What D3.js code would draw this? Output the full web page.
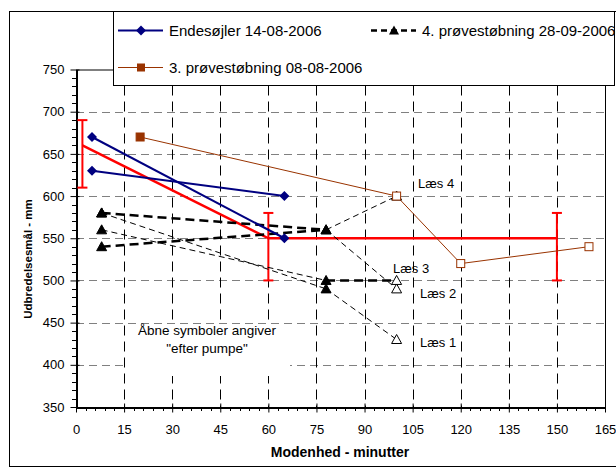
<!DOCTYPE html>
<html>
<head>
<meta charset="utf-8">
<script src="https://cdn.jsdelivr.net/npm/d3@7.9.0/dist/d3.min.js"></script>
<style>
  body { margin: 0; background: #fff; }
  svg { display: block; font-family: "Liberation Sans", Arial, sans-serif; }
</style>
</head>
<body>
<svg id="chart" width="616" height="468"></svg>
<script>
// ---- data ----
const xTicks = [0, 15, 30, 45, 60, 75, 90, 105, 120, 135, 150, 165];
const yTicks = [350, 400, 450, 500, 550, 600, 650, 700, 750];

// Endesøjler 14-08-2006 (two pairs)
const endesojlerA = [[5, 670], [65, 550]];
const endesojlerB = [[5, 630], [65, 600]];

// red mean line with error bars (+30 / -50)
const meanLine = [[2, 660], [60, 550], [150, 550]];
const errUp = 30;
const errDown = 50;

// 3. prøvestøbning 08-08-2006 (first point before pump, rest after)
const prove3 = [[20, 670], [100, 600], [120, 520], [160, 540]];
const prove3Open = [false, true, true, true];

// 4. prøvestøbning 28-09-2006, one run per load ("Læs")
const laes1 = [[8, 580], [78, 490], [100, 430]];
const laes2 = [[8, 580], [78, 560], [100, 490]];
const laes3 = [[8, 560], [78, 500], [100, 500]];
const laes4 = [[8, 540], [78, 560], [100, 600]];
const laesLabels = ['Læs 1', 'Læs 2', 'Læs 3', 'Læs 4'];

const svg = d3.select('#chart');
const margin = { left: 76, right: 605, top: 69.5, bottom: 407 };

const x = d3.scaleLinear().domain([0, 165]).range([margin.left, margin.right]);
const y = d3.scaleLinear().domain([350, 750]).range([margin.bottom, margin.top]);

// outer frame
svg.append('rect')
  .attr('x', 9.5).attr('y', 11.5).attr('width', 620).attr('height', 455)
  .attr('fill', 'none').attr('stroke', '#000');

// gridlines
svg.append('g').selectAll('line')
  .data(yTicks.filter((d) => d > 350 && d < 750))
  .join('line')
  .attr('x1', margin.left).attr('x2', margin.right)
  .attr('y1', (d) => Math.round(y(d)) + 0.5).attr('y2', (d) => Math.round(y(d)) + 0.5)
  .attr('stroke', '#808080').attr('stroke-dasharray', '8,5');

svg.append('g').selectAll('line')
  .data(xTicks.filter((d) => d > 0 && d < 165))
  .join('line')
  .attr('x1', (d) => Math.round(x(d)) + 0.5).attr('x2', (d) => Math.round(x(d)) + 0.5)
  .attr('y1', margin.top).attr('y2', margin.bottom)
  .attr('stroke', '#000').attr('stroke-dasharray', '10,6');

// note box (white, hides grid behind text)
svg.append('rect')
  .attr('x', 127).attr('y', 325).attr('width', 163).attr('height', 51)
  .attr('fill', '#fff');
svg.append('text')
  .attr('x', 207).attr('y', 335).attr('text-anchor', 'middle')
  .attr('font-size', 13.5).text('Åbne symboler angiver');
svg.append('text')
  .attr('x', 207).attr('y', 353).attr('text-anchor', 'middle')
  .attr('font-size', 13.5).text('"efter pumpe"');

// plot frame
svg.append('rect')
  .attr('x', margin.left + 0.5).attr('y', margin.top + 0.5)
  .attr('width', margin.right - margin.left).attr('height', margin.bottom - margin.top)
  .attr('fill', 'none').attr('stroke', '#000');

// axes
const yAxis = svg.append('g')
  .attr('transform', `translate(${margin.left + 0.5},0)`)
  .call(d3.axisLeft(y).tickValues(yTicks).tickSizeInner(6).tickSizeOuter(0).tickPadding(6));
yAxis.selectAll('.tick line').attr('x2', -6).attr('x1', 3);
yAxis.selectAll('text').attr('font-size', 13).attr('font-family', 'Liberation Sans, Arial, sans-serif');
yAxis.select('.domain').attr('stroke-width', 2);
svg.append('g').selectAll('line')
  .data(d3.range(350, 751, 10).filter((d) => d % 50 !== 0))
  .join('line')
  .attr('x1', margin.left - 4).attr('x2', margin.left)
  .attr('y1', (d) => Math.round(y(d)) + 0.5).attr('y2', (d) => Math.round(y(d)) + 0.5)
  .attr('stroke', '#000');

const xAxis = svg.append('g')
  .attr('transform', `translate(0,${margin.bottom + 0.5})`)
  .call(d3.axisBottom(x).tickValues(xTicks).tickSizeInner(5).tickSizeOuter(0).tickPadding(12));
xAxis.selectAll('.tick line').attr('y1', -4);
xAxis.selectAll('text').attr('font-size', 13).attr('font-family', 'Liberation Sans, Arial, sans-serif');
xAxis.select('.domain').attr('stroke-width', 2);
svg.append('g').selectAll('line')
  .data(d3.range(0, 166, 3).filter((d) => d % 15 !== 0))
  .join('line')
  .attr('x1', (d) => Math.round(x(d)) + 0.5).attr('x2', (d) => Math.round(x(d)) + 0.5)
  .attr('y1', margin.bottom).attr('y2', margin.bottom + 4)
  .attr('stroke', '#000');

// axis titles
svg.append('text')
  .attr('x', 340).attr('y', 457).attr('text-anchor', 'middle')
  .attr('font-size', 14).attr('font-weight', 'bold').text('Modenhed - minutter');
svg.append('text')
  .attr('transform', 'translate(32,259) rotate(-90)').attr('text-anchor', 'middle')
  .attr('font-size', 11.5).attr('font-weight', 'bold').text('Udbredelsesmål - mm');

const line = d3.line().x((d) => x(d[0])).y((d) => y(d[1]));

// marker shapes
const diamond = (s) => `M0,${-s}L${s},0L0,${s}L${-s},0Z`;
const triangle = (s) => `M0,${-s}L${s},${s * 0.8}L${-s},${s * 0.8}Z`;

// red mean line + error bars
svg.append('path').datum(meanLine).attr('d', line)
  .attr('fill', 'none').attr('stroke', '#ff0000').attr('stroke-width', 2.5);
const eb = svg.append('g').selectAll('g').data(meanLine).join('g')
  .attr('stroke', '#ff0000').attr('stroke-width', 2);
eb.append('line')
  .attr('x1', (d) => x(d[0])).attr('x2', (d) => x(d[0]))
  .attr('y1', (d) => y(d[1] + errUp)).attr('y2', (d) => y(d[1] - errDown));
eb.append('line')
  .attr('x1', (d) => x(d[0]) - 5).attr('x2', (d) => x(d[0]) + 5)
  .attr('y1', (d) => y(d[1] + errUp)).attr('y2', (d) => y(d[1] + errUp));
eb.append('line')
  .attr('x1', (d) => x(d[0]) - 5).attr('x2', (d) => x(d[0]) + 5)
  .attr('y1', (d) => y(d[1] - errDown)).attr('y2', (d) => y(d[1] - errDown));

// 3. prøvestøbning
svg.append('path').datum(prove3).attr('d', line)
  .attr('fill', 'none').attr('stroke', '#993300').attr('stroke-width', 1);

// Læs runs: heavy dashes where the picture shows them
const runs = [laes1, laes2, laes3, laes4];
const heavy = [[], [0], [1], [0]];
runs.forEach((run, i) => {
  d3.pairs(run).forEach((seg, j) => {
    const thick = heavy[i].includes(j);
    svg.append('path').datum(seg).attr('d', line)
      .attr('fill', 'none').attr('stroke', '#000')
      .attr('stroke-width', thick ? 2.5 : 1)
      .attr('stroke-dasharray', thick ? '9,5' : '6,4');
  });
});

// Endesøjler
[endesojlerA, endesojlerB].forEach((s) => {
  svg.append('path').datum(s).attr('d', line)
    .attr('fill', 'none').attr('stroke', '#000080').attr('stroke-width', 2);
  svg.append('g').selectAll('path').data(s).join('path')
    .attr('transform', (d) => `translate(${x(d[0])},${y(d[1])})`)
    .attr('d', diamond(5)).attr('fill', '#000080');
});

// triangles
runs.forEach((run) => {
  svg.append('g').selectAll('path').data(run).join('path')
    .attr('transform', (d) => `translate(${x(d[0])},${y(d[1])})`)
    .attr('d', triangle(5))
    .attr('fill', (d) => (d[0] >= 100 ? '#fff' : '#000'))
    .attr('stroke', '#000').attr('stroke-width', 1);
});

// squares
svg.append('g').selectAll('rect').data(prove3).join('rect')
  .attr('x', (d) => x(d[0]) - 4).attr('y', (d) => y(d[1]) - 4)
  .attr('width', 8).attr('height', 8)
  .attr('fill', (d, i) => (prove3Open[i] ? '#fff' : '#993300'))
  .attr('stroke', '#993300').attr('stroke-width', 1);

// Læs labels
const labelPos = [[420, 347], [420, 298], [393, 273], [418, 188]];
laesLabels.forEach((t, i) => {
  svg.append('text')
    .attr('x', labelPos[i][0]).attr('y', labelPos[i][1])
    .attr('font-size', 13).text(t);
});

// legend
const lg = svg.append('g');
lg.append('rect')
  .attr('x', 113.5).attr('y', 11.5).attr('width', 501).attr('height', 74)
  .attr('fill', '#fff').attr('stroke', '#000');
const legendItems = [
  { label: 'Endesøjler 14-08-2006', x: 118, y: 30, color: '#000080', w: 2, dash: null, mark: 'diamond' },
  { label: '4. prøvestøbning 28-09-2006', x: 371, y: 30, color: '#000', w: 2.5, dash: '6,4', mark: 'triangle' },
  { label: '3. prøvestøbning 08-08-2006', x: 118, y: 67, color: '#993300', w: 1, dash: null, mark: 'square' },
];
legendItems.forEach((d) => {
  const g = lg.append('g').attr('transform', `translate(${d.x},${d.y})`);
  g.append('line').attr('x1', 0).attr('x2', 45).attr('y1', 0.5).attr('y2', 0.5)
    .attr('stroke', d.color).attr('stroke-width', d.w)
    .attr('stroke-dasharray', d.dash);
  if (d.mark === 'diamond') {
    g.append('path').attr('transform', 'translate(23,0.5)').attr('d', diamond(5)).attr('fill', d.color);
  } else if (d.mark === 'triangle') {
    g.append('path').attr('transform', 'translate(23,0.5)').attr('d', triangle(5)).attr('fill', d.color);
  } else {
    g.append('rect').attr('x', 19).attr('y', -3.5).attr('width', 8).attr('height', 8).attr('fill', d.color);
  }
  g.append('text').attr('x', 51).attr('y', 5.5).attr('font-size', 15).text(d.label);
});
</script>
</body>
</html>
